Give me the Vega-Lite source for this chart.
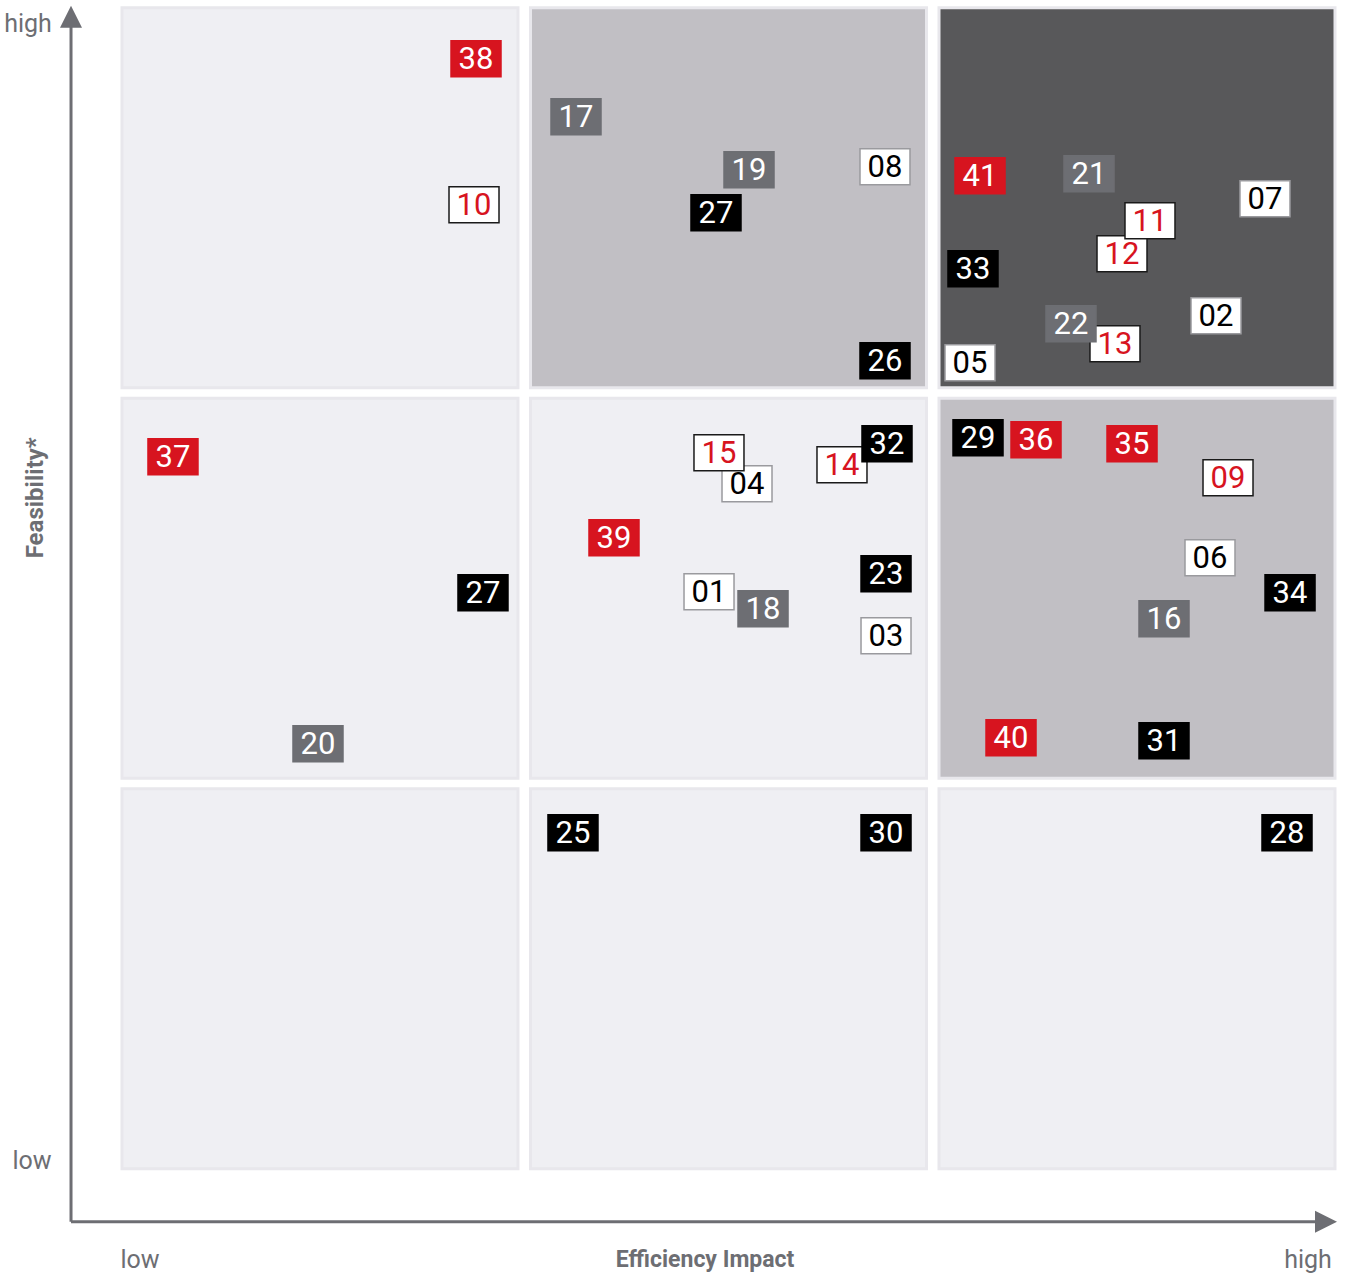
{
  "$schema": "https://vega.github.io/schema/vega-lite/v6.json",
  "width": 1346,
  "height": 1277,
  "autosize": {"type": "none"},
  "padding": 0,
  "background": "white",
  "config": {"view": {"stroke": null}},
  "datasets": {
    "cells": [
      {"col": 0, "row": 0, "x1": 0, "x2": 0.9694, "y1": 0, "y2": 0.9731, "level": "light"},
      {"col": 1, "row": 0, "x1": 1, "x2": 1.9694, "y1": 0, "y2": 0.9731, "level": "light"},
      {"col": 2, "row": 0, "x1": 2, "x2": 2.9694, "y1": 0, "y2": 0.9731, "level": "light"},
      {"col": 0, "row": 1, "x1": 0, "x2": 0.9694, "y1": 1, "y2": 1.9731, "level": "light"},
      {"col": 1, "row": 1, "x1": 1, "x2": 1.9694, "y1": 1, "y2": 1.9731, "level": "light"},
      {"col": 2, "row": 1, "x1": 2, "x2": 2.9694, "y1": 1, "y2": 1.9731, "level": "medium"},
      {"col": 0, "row": 2, "x1": 0, "x2": 0.9694, "y1": 2, "y2": 2.9731, "level": "light"},
      {"col": 1, "row": 2, "x1": 1, "x2": 1.9694, "y1": 2, "y2": 2.9731, "level": "medium"},
      {"col": 2, "row": 2, "x1": 2, "x2": 2.9694, "y1": 2, "y2": 2.9731, "level": "dark"}
    ],
    "items": [
      {"id": "38", "kind": "red", "impact": 0.8666, "feasibility": 2.8425},
      {"id": "10", "kind": "redOutline", "impact": 0.8617, "feasibility": 2.4686},
      {"id": "17", "kind": "gray", "impact": 1.1114, "feasibility": 2.694},
      {"id": "19", "kind": "gray", "impact": 1.5349, "feasibility": 2.5583},
      {"id": "27", "kind": "black", "impact": 1.4541, "feasibility": 2.4481},
      {"id": "08", "kind": "white", "impact": 1.8678, "feasibility": 2.5659},
      {"id": "26", "kind": "black", "impact": 1.8678, "feasibility": 2.0691},
      {"id": "41", "kind": "red", "impact": 2.1004, "feasibility": 2.5429},
      {"id": "21", "kind": "gray", "impact": 2.3672, "feasibility": 2.548},
      {"id": "07", "kind": "white", "impact": 2.798, "feasibility": 2.484},
      {"id": "12", "kind": "redOutline", "impact": 2.448, "feasibility": 2.3431},
      {"id": "11", "kind": "redOutline", "impact": 2.5165, "feasibility": 2.4277},
      {"id": "33", "kind": "black", "impact": 2.0832, "feasibility": 2.3047},
      {"id": "02", "kind": "white", "impact": 2.6781, "feasibility": 2.1844},
      {"id": "13", "kind": "redOutline", "impact": 2.4308, "feasibility": 2.1127},
      {"id": "22", "kind": "gray", "impact": 2.3231, "feasibility": 2.1639},
      {"id": "05", "kind": "white", "impact": 2.0759, "feasibility": 2.064},
      {"id": "37", "kind": "red", "impact": 0.1248, "feasibility": 1.8233},
      {"id": "27", "kind": "black", "impact": 0.8837, "feasibility": 1.475},
      {"id": "20", "kind": "gray", "impact": 0.4798, "feasibility": 1.0883},
      {"id": "04", "kind": "white", "impact": 1.53, "feasibility": 1.7542},
      {"id": "15", "kind": "redOutline", "impact": 1.4614, "feasibility": 1.8335},
      {"id": "14", "kind": "redOutline", "impact": 1.7625, "feasibility": 1.8028},
      {"id": "32", "kind": "black", "impact": 1.8727, "feasibility": 1.8566},
      {"id": "39", "kind": "red", "impact": 1.2044, "feasibility": 1.6159},
      {"id": "23", "kind": "black", "impact": 1.8703, "feasibility": 1.5237},
      {"id": "01", "kind": "white", "impact": 1.437, "feasibility": 1.4776},
      {"id": "18", "kind": "gray", "impact": 1.5692, "feasibility": 1.4341},
      {"id": "03", "kind": "white", "impact": 1.8703, "feasibility": 1.3649},
      {"id": "29", "kind": "black", "impact": 2.0955, "feasibility": 1.872},
      {"id": "36", "kind": "red", "impact": 2.2375, "feasibility": 1.8668},
      {"id": "35", "kind": "red", "impact": 2.4725, "feasibility": 1.8566},
      {"id": "09", "kind": "redOutline", "impact": 2.7075, "feasibility": 1.7695},
      {"id": "06", "kind": "white", "impact": 2.6634, "feasibility": 1.5647},
      {"id": "34", "kind": "black", "impact": 2.8593, "feasibility": 1.475},
      {"id": "16", "kind": "gray", "impact": 2.5508, "feasibility": 1.4085},
      {"id": "40", "kind": "red", "impact": 2.1763, "feasibility": 1.1037},
      {"id": "31", "kind": "black", "impact": 2.5508, "feasibility": 1.096},
      {"id": "25", "kind": "black", "impact": 1.104, "feasibility": 0.8604},
      {"id": "30", "kind": "black", "impact": 1.8703, "feasibility": 0.8604},
      {"id": "28", "kind": "black", "impact": 2.8519, "feasibility": 0.8604}
    ],
    "axislines": [
      {"name": "feasibility", "x1": -0.1248, "y1": -0.1357, "x2": -0.1248, "y2": 2.93},
      {"name": "impact", "x1": -0.1248, "y1": -0.1357, "x2": 2.93, "y2": -0.1357}
    ],
    "arrows": [
      {"name": "feasibility", "ax": -0.1248, "ay": 2.9501, "dir": "up"},
      {"name": "impact", "ax": 2.9474, "ay": -0.1357, "dir": "right"}
    ],
    "labels": [
      {"text": "high", "lx": -0.2301, "ly": 2.9347},
      {"text": "low", "lx": -0.2203, "ly": 0.023},
      {"text": "low", "lx": 0.0441, "ly": -0.2305},
      {"text": "high", "lx": 2.9033, "ly": -0.2305}
    ],
    "titles": [
      {"text": "Efficiency Impact", "lx": 1.4272, "ly": -0.2305}
    ],
    "vlabels": [
      {"text": "Feasibility*", "lx": -0.2105, "ly": 1.7183}
    ]
  },
  "layer": [
    {
      "data": {"name": "cells"},
      "mark": {"type": "rect", "stroke": "#e8e7ec", "strokeWidth": 3},
      "encoding": {
        "x": {"field": "x1", "type": "quantitative", "scale": {"domain": [0, 3], "range": [122, 1347.5], "nice": false, "zero": false}, "axis": null},
        "x2": {"field": "x2"},
        "y": {"field": "y1", "type": "quantitative", "scale": {"domain": [0, 3], "range": [1168.8, -2.7], "nice": false, "zero": false}, "axis": null},
        "y2": {"field": "y2"},
        "fill": {"field": "level", "type": "nominal", "scale": {"domain": ["light", "medium", "dark"], "range": ["#efeff3", "#c1bfc4", "#58585a"]}, "legend": null}
      }
    },
    {
      "data": {"name": "axislines"},
      "mark": {"type": "rule", "color": "#6d6e73", "strokeWidth": 3},
      "encoding": {
        "x": {"field": "x1", "type": "quantitative", "scale": {"domain": [0, 3], "range": [122, 1347.5], "nice": false, "zero": false}, "axis": null},
        "x2": {"field": "x2"},
        "y": {"field": "y1", "type": "quantitative", "scale": {"domain": [0, 3], "range": [1168.8, -2.7], "nice": false, "zero": false}, "axis": null},
        "y2": {"field": "y2"}
      }
    },
    {
      "data": {"name": "arrows"},
      "mark": {"type": "point", "filled": true, "color": "#6d6e73", "opacity": 1, "size": 484},
      "encoding": {
        "x": {"field": "ax", "type": "quantitative", "scale": {"domain": [0, 3], "range": [122, 1347.5], "nice": false, "zero": false}, "axis": null},
        "y": {"field": "ay", "type": "quantitative", "scale": {"domain": [0, 3], "range": [1168.8, -2.7], "nice": false, "zero": false}, "axis": null},
        "shape": {"field": "dir", "type": "nominal", "scale": {"domain": ["up", "right"], "range": ["M0,-1L1,1L-1,1Z", "M1,0L-1,1L-1,-1Z"]}, "legend": null}
      }
    },
    {
      "data": {"name": "labels"},
      "mark": {"type": "text", "font": "Roboto", "fontSize": 25, "color": "#6d6e73", "align": "center", "baseline": "middle", "dy": 1},
      "encoding": {
        "x": {"field": "lx", "type": "quantitative", "scale": {"domain": [0, 3], "range": [122, 1347.5], "nice": false, "zero": false}, "axis": null},
        "y": {"field": "ly", "type": "quantitative", "scale": {"domain": [0, 3], "range": [1168.8, -2.7], "nice": false, "zero": false}, "axis": null},
        "text": {"field": "text"}
      }
    },
    {
      "data": {"name": "titles"},
      "mark": {"type": "text", "font": "Roboto", "fontSize": 23, "fontWeight": "bold", "color": "#6d6e73", "align": "center", "baseline": "middle", "dy": 1},
      "encoding": {
        "x": {"field": "lx", "type": "quantitative", "scale": {"domain": [0, 3], "range": [122, 1347.5], "nice": false, "zero": false}, "axis": null},
        "y": {"field": "ly", "type": "quantitative", "scale": {"domain": [0, 3], "range": [1168.8, -2.7], "nice": false, "zero": false}, "axis": null},
        "text": {"field": "text"}
      }
    },
    {
      "data": {"name": "vlabels"},
      "mark": {"type": "text", "font": "Roboto", "fontSize": 24, "fontWeight": "bold", "color": "#6d6e73", "align": "center", "baseline": "middle", "angle": 270},
      "encoding": {
        "x": {"field": "lx", "type": "quantitative", "scale": {"domain": [0, 3], "range": [122, 1347.5], "nice": false, "zero": false}, "axis": null},
        "y": {"field": "ly", "type": "quantitative", "scale": {"domain": [0, 3], "range": [1168.8, -2.7], "nice": false, "zero": false}, "axis": null},
        "text": {"field": "text"}
      }
    },
    {
      "data": {"name": "items"},
      "mark": {"type": "point", "filled": true, "opacity": 1, "size": 2500, "shape": "M-1,-0.72H1V0.72H-1Z", "strokeWidth": 1.5, "strokeOpacity": 1},
      "encoding": {
        "x": {"field": "impact", "type": "quantitative", "scale": {"domain": [0, 3], "range": [122, 1347.5], "nice": false, "zero": false}, "axis": null},
        "y": {"field": "feasibility", "type": "quantitative", "scale": {"domain": [0, 3], "range": [1168.8, -2.7], "nice": false, "zero": false}, "axis": null},
        "fill": {"field": "kind", "type": "nominal", "scale": {"domain": ["red", "redOutline", "black", "gray", "white"], "range": ["#d7141f", "#ffffff", "#000000", "#6d6e73", "#ffffff"]}, "legend": null},
        "stroke": {"field": "kind", "type": "nominal", "scale": {"domain": ["red", "redOutline", "black", "gray", "white"], "range": ["#d7141f", "#1a1a1a", "#000000", "#6d6e73", "#9a9a9e"]}, "legend": null}
      }
    },
    {
      "data": {"name": "items"},
      "mark": {"type": "text", "font": "Roboto", "fontSize": 31, "align": "center", "baseline": "middle", "dy": 1.5},
      "encoding": {
        "x": {"field": "impact", "type": "quantitative", "scale": {"domain": [0, 3], "range": [122, 1347.5], "nice": false, "zero": false}, "axis": null},
        "y": {"field": "feasibility", "type": "quantitative", "scale": {"domain": [0, 3], "range": [1168.8, -2.7], "nice": false, "zero": false}, "axis": null},
        "text": {"field": "id"},
        "color": {"field": "kind", "type": "nominal", "scale": {"domain": ["red", "redOutline", "black", "gray", "white"], "range": ["#ffffff", "#d7141f", "#ffffff", "#ffffff", "#000000"]}, "legend": null}
      }
    }
  ],
  "resolve": {"scale": {"fill": "independent", "color": "independent", "shape": "independent", "stroke": "independent"}}
}
